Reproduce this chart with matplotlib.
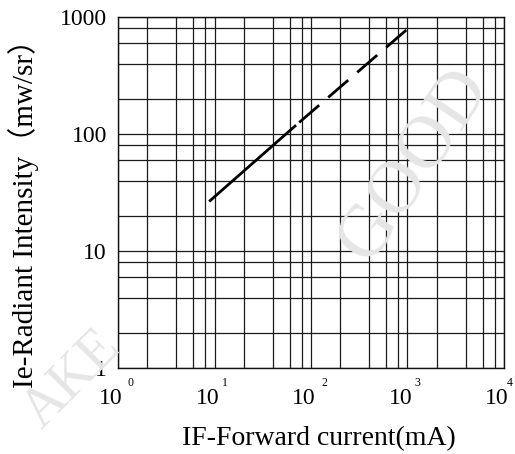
import matplotlib
matplotlib.use("Agg")
import matplotlib.pyplot as plt
import numpy as np
from matplotlib.ticker import FixedLocator, NullFormatter

# ---- data ----
current_solid = [8.8, 70]
intensity_solid = [26.5, 119]
current_dashed = [70, 1000]
intensity_dashed = [119, 790]

x_decades = [1, 10, 100, 1000, 10000]
x_exponents = ["0", "1", "2", "3", "4"]
y_ticks = [1, 10, 100, 1000]
y_ticklabels = ["1", "10", "100", "1000"]
minor_mult = [2, 4, 6, 8]

plt.rcParams['lines.scale_dashes'] = False
serif = ['Liberation Serif', 'DejaVu Serif']

W, H = 515, 454
fig = plt.figure(figsize=(W / 100, H / 100), dpi=100)
L, R, T, B = 118, 504, 17, 368
ax = fig.add_axes([L / W, 1 - B / H, (R - L) / W, (B - T) / H])

ax.set_xscale('log')
ax.set_yscale('log')
ax.set_xlim(1, 1e4)
ax.set_ylim(1, 1000)

x_minor = [m * d for d in x_decades[:-1] for m in minor_mult]
y_minor = [m * d for d in y_ticks[:-1] for m in minor_mult]
ax.xaxis.set_major_locator(FixedLocator(x_decades))
ax.xaxis.set_minor_locator(FixedLocator(x_minor))
ax.yaxis.set_major_locator(FixedLocator(y_ticks))
ax.yaxis.set_minor_locator(FixedLocator(y_minor))
ax.xaxis.set_major_formatter(NullFormatter())
ax.xaxis.set_minor_formatter(NullFormatter())
ax.yaxis.set_minor_formatter(NullFormatter())
ax.set_yticklabels(y_ticklabels, fontfamily=serif, fontsize=17)
ax.tick_params(which='both', length=0)
ax.tick_params(axis='y', pad=8)
ax.grid(True, which='both', color='#1a1a1a', linewidth=0.9)
ax.set_axisbelow(True)
for s in ax.spines.values():
    s.set_color('#111111')
    s.set_linewidth(1.0)

# watermarks
fig.text(415 / W, 1 - 165 / H, "GOOD", fontsize=54, family=serif,
         color='#e6e6e6', rotation=56, ha='center', va='center', zorder=0)
fig.text(72 / W, 1 - 380 / H, "AKE", fontsize=40, family=serif,
         color='#e6e6e6', rotation=45, ha='center', va='center', zorder=0)

# data
ax.plot(current_solid, intensity_solid, color='black', lw=2.0,
        solid_capstyle='butt', zorder=3)
ax.plot(current_dashed, intensity_dashed, color='black', lw=2.0,
        linestyle=(24.6, (19, 8.6)), dash_capstyle='butt', zorder=3)

# x tick labels "10" with superscript exponents
exp_dx = [13, 10, 13, 10, 6]
for d, e, dx in zip(x_decades, x_exponents, exp_dx):
    ax.annotate("10", xy=(d, 0), xycoords=('data', 'axes fraction'),
                xytext=(-7, -31), textcoords='offset pixels',
                ha='center', va='center', fontsize=17, family=serif,
                annotation_clip=False)
    ax.annotate(e, xy=(d, 0), xycoords=('data', 'axes fraction'),
                xytext=(dx, -15), textcoords='offset pixels',
                ha='center', va='center', fontsize=8.5, family=serif,
                annotation_clip=False)

fig.text(319 / W, 1 - 439 / H, "IF-Forward current(mA)", fontsize=20,
         family=serif, ha='center', va='center')
fig.text(24 / W, 1 - 206 / H, "Ie-Radiant Intensity（mw/sr）", fontsize=21,
         family=['Liberation Serif', 'Noto Sans CJK SC'],
         rotation=90, ha='center', va='center')

fig.savefig("out.png", dpi=100)
